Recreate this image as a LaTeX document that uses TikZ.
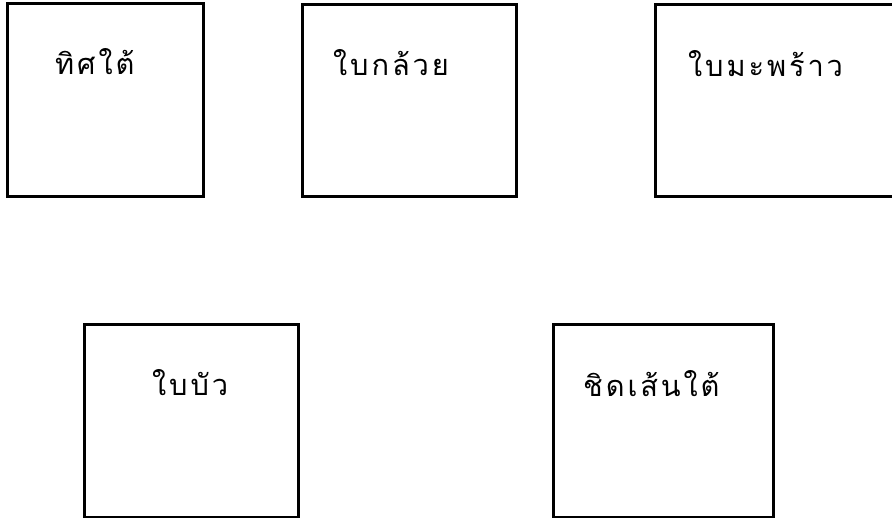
\documentclass[tikz,border=0pt]{standalone}
\usepackage{fontspec}
\newfontfamily\thaifont[Script=Thai,LetterSpace=10]{Loma}
\begin{document}
\begin{tikzpicture}[x=1pt,y=-1pt,
  box/.style={draw=black,line width=3pt,inner sep=0pt,fill=none},
  lbl/.style={anchor=base west,inner sep=0pt,font=\thaifont\fontsize{29}{32}\selectfont}]
\useasboundingbox (0,0) rectangle (892,518);
\begin{scope}
\clip (0,0) rectangle (892,518);
\node[box,minimum width=196pt,minimum height=193pt] (b1) at (105,100.5) {};
\node[box,minimum width=214pt,minimum height=192pt] (b2) at (409,101) {};
\node[box,minimum width=255pt,minimum height=192pt] (b3) at (782.5,101) {};
\node[box,minimum width=214pt,minimum height=192pt] (b4) at (191,421) {};
\node[box,minimum width=220pt,minimum height=192pt] (b5) at (663,421) {};
\end{scope}
\node[lbl] (t1) at (55,75) {ทิศใต้};
\node[lbl] (t2) at (333,76) {ใบกล้วย};
\node[lbl] (t3) at (688,77) {ใบมะพร้าว};
\node[lbl] (t4) at (152,396) {ใบบัว};
\node[lbl] (t5) at (583,397) {ชิดเส้นใต้};
\end{tikzpicture}
\end{document}
